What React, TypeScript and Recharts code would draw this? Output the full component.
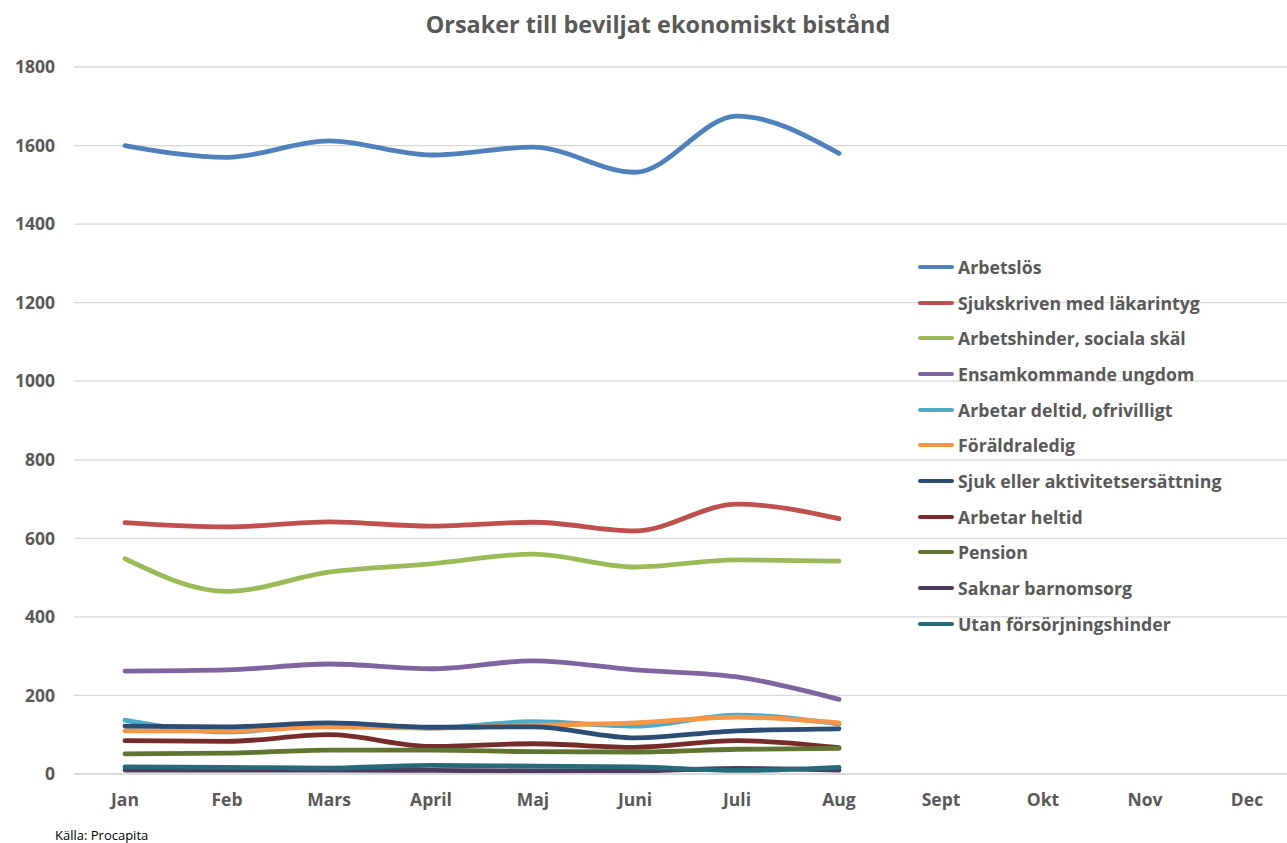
import React from "react";
import {
  LineChart,
  Line,
  XAxis,
  YAxis,
  CartesianGrid,
} from "recharts";

const MONTHS = ["Jan", "Feb", "Mars", "April", "Maj", "Juni", "Juli", "Aug", "Sept", "Okt", "Nov", "Dec"];
const Y_TICKS = [0, 200, 400, 600, 800, 1000, 1200, 1400, 1600, 1800];

const ARBETSLOS = [1600, 1570, 1612, 1576, 1596, 1532, 1675, 1580];
const SJUKSKRIVEN = [640, 629, 642, 631, 641, 619, 687, 650];
const ARBETSHINDER = [548, 465, 514, 535, 560, 527, 545, 542];
const ENSAMKOMMANDE = [262, 265, 280, 268, 288, 265, 247, 190];
const DELTID = [137, 107, 125, 117, 133, 122, 150, 127];
const FORALDRALEDIG = [110, 110, 120, 117, 124, 130, 145, 130];
const SJUK_AKTIVITET = [122, 120, 130, 119, 120, 92, 110, 115];
const HELTID = [85, 83, 100, 70, 77, 68, 85, 67];
const PENSION = [51, 53, 61, 61, 57, 56, 63, 65];
const SAKNAR_BARNOMSORG = [10, 10, 10, 9, 8, 8, 14, 10];
const UTAN_HINDER = [18, 17, 15, 22, 20, 18, 9, 17];

const SERIES = [
  { key: "Arbetslös", values: ARBETSLOS, color: "#4F81BD" },
  { key: "Sjukskriven med läkarintyg", values: SJUKSKRIVEN, color: "#C0504D" },
  { key: "Arbetshinder, sociala skäl", values: ARBETSHINDER, color: "#9BBB59" },
  { key: "Ensamkommande ungdom", values: ENSAMKOMMANDE, color: "#8064A2" },
  { key: "Arbetar deltid, ofrivilligt", values: DELTID, color: "#4BACC6" },
  { key: "Föräldraledig", values: FORALDRALEDIG, color: "#F79646" },
  { key: "Sjuk eller aktivitetsersättning", values: SJUK_AKTIVITET, color: "#2C4D75" },
  { key: "Arbetar heltid", values: HELTID, color: "#772C2A" },
  { key: "Pension", values: PENSION, color: "#5F7530" },
  { key: "Saknar barnomsorg", values: SAKNAR_BARNOMSORG, color: "#4D3B62" },
  { key: "Utan försörjningshinder", values: UTAN_HINDER, color: "#276A7C" },
];

const data = MONTHS.map((month, i) => {
  const row: Record<string, string | number | null> = { month };
  SERIES.forEach((s) => {
    row[s.key] = i < s.values.length ? s.values[i] : null;
  });
  return row;
});

const FONT = "'Open Sans', sans-serif";
const TEXT = "#595959";

// legend drawn as an overlay so it does not shrink the plot (gridlines show through it)
const ChartLegend = () => (
  <div style={{ position: "absolute", left: 918, top: 249, fontFamily: FONT }}>
    {SERIES.map((s) => (
      <div
        key={s.key}
        style={{ display: "flex", alignItems: "center", height: 35.7 }}
      >
        <span
          style={{
            display: "inline-block",
            width: 36,
            height: 4,
            borderRadius: 2,
            background: s.color,
            marginRight: 4,
          }}
        />
        <span style={{ color: TEXT, fontSize: 17.7, fontWeight: 700, whiteSpace: "nowrap" }}>
          {s.key}
        </span>
      </div>
    ))}
  </div>
);

export default function App() {
  return (
    <div
      style={{
        position: "absolute",
        left: 0,
        top: 0,
        width: 1287,
        height: 843,
        overflow: "hidden",
        background: "#fff",
        fontFamily: FONT,
      }}
    >
      <div
        style={{
          position: "absolute",
          top: 8,
          left: 0,
          width: 1316,
          textAlign: "center",
          fontSize: 23.4,
          fontWeight: 700,
          color: TEXT,
        }}
      >
        Orsaker till beviljat ekonomiskt bistånd
      </div>
      <div style={{ position: "absolute", left: 0, top: 0 }}>
        <LineChart
          width={1300}
          height={843}
          data={data}
          margin={{ top: 67, right: 2, bottom: 39, left: 0 }}
        >
          <CartesianGrid vertical={false} stroke="#D9D9D9" strokeWidth={1.3} />
          <XAxis
            dataKey="month"
            height={30}
            padding={{ left: 51, right: 51 }}
            axisLine={{ stroke: "#D9D9D9", strokeWidth: 1.3 }}
            tickLine={false}
            tickSize={0}
            tickMargin={20}
            tick={{ fill: TEXT, fontSize: 17.5, fontWeight: 700, fontFamily: FONT }}
            interval={0}
          />
          <YAxis
            width={74}
            domain={[0, 1800]}
            ticks={Y_TICKS}
            axisLine={false}
            tickLine={false}
            tickSize={0}
            tickMargin={19}
            tick={{ fill: TEXT, fontSize: 17.5, fontWeight: 700, fontFamily: FONT }}
          />
          {SERIES.map((s) => (
            <Line
              key={s.key}
              type="monotone"
              dataKey={s.key}
              stroke={s.color}
              strokeWidth={4.8}
              strokeLinecap="round"
              dot={false}
              activeDot={false}
              connectNulls={false}
              isAnimationActive={false}
            />
          ))}
        </LineChart>
      </div>
      <ChartLegend />
      <div
        style={{
          position: "absolute",
          left: 55,
          top: 826,
          fontSize: 13,
          color: "#000",
        }}
      >
        Källa: Procapita
      </div>
    </div>
  );
}
